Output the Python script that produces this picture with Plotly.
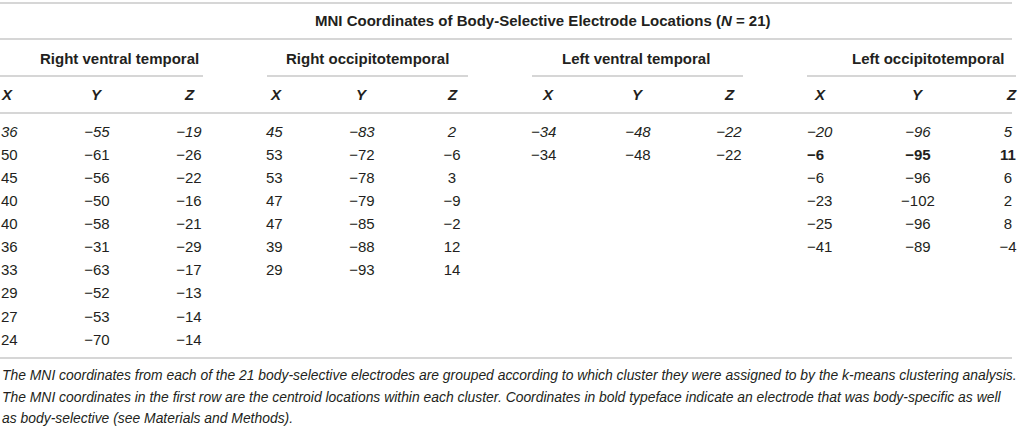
import plotly.graph_objects as go

# ---------------- data (first row = cluster centroid)
groups = ["Right ventral temporal", "Right occipitotemporal",
          "Left ventral temporal", "Left occipitotemporal"]

rvt_x = [36, 50, 45, 40, 40, 36, 33, 29, 27, 24]
rvt_y = [-55, -61, -56, -50, -58, -31, -63, -52, -53, -70]
rvt_z = [-19, -26, -22, -16, -21, -29, -17, -13, -14, -14]

rot_x = [45, 53, 53, 47, 47, 39, 29]
rot_y = [-83, -72, -78, -79, -85, -88, -93]
rot_z = [2, -6, 3, -9, -2, 12, 14]

lvt_x = [-34, -34]
lvt_y = [-48, -48]
lvt_z = [-22, -22]

lot_x = [-20, -6, -6, -23, -25, -41]
lot_y = [-96, -95, -96, -102, -96, -89]
lot_z = [5, 11, 6, 2, 8, -4]

# rows (within a group) that are body-specific -> bold
bold_rows = {3: [1]}

title = "MNI Coordinates of Body-Selective Electrode Locations (<i>N</i> = 21)"
footnote = [
    "The MNI coordinates from each of the 21 body-selective electrodes are grouped according to which cluster they were assigned to by the k-means clustering analysis.",
    "The MNI coordinates in the first row are the centroid locations within each cluster. Coordinates in bold typeface indicate an electrode that was body-specific as well",
    "as body-selective (see Materials and Methods).",
]

# ---------------- layout constants (pixel space)
W, H = 1019, 428
FONT = "Liberation Sans, Arial, Helvetica, sans-serif"
TXT = "#231f20"
RULE = "#c9c9c9"
row0, drow = 133, 23.1
# per group: x left edge of X column, centre of Y, centre of Z, underline span, header centres
cols = [
    dict(x=1, y=97, z=189, span=(0, 203), hx=7, gx=119),
    dict(x=266, y=362, z=452, span=(267, 468), hx=276, gx=367),
    dict(x=531, y=638, z=729, span=(532, 743), hx=548, gx=636),
    dict(x=807, y=918, z=1008, span=(807, 1016), hx=820, gx=928),
]
data = [(rvt_x, rvt_y, rvt_z), (rot_x, rot_y, rot_z),
        (lvt_x, lvt_y, lvt_z), (lot_x, lot_y, lot_z)]


def fmt(v, i, g):
    s = str(v).replace("-", "\u2212")
    if i == 0:
        s = "<i>" + s + "</i>"
    if i in bold_rows.get(g, []):
        s = "<b>" + s + "</b>"
    return s


fig = go.Figure()

for g, (xs, ys, zs) in enumerate(data):
    c = cols[g]
    rows = [row0 + i * drow for i in range(len(xs))]
    for vals, cx, pos in [(xs, c["x"], "middle right"),
                          (ys, c["y"], "middle center"),
                          (zs, c["z"], "middle center")]:
        fig.add_trace(go.Scatter(
            x=[cx] * len(vals), y=rows, mode="text",
            text=[fmt(v, i, g) for i, v in enumerate(vals)],
            textposition=pos,
            textfont=dict(family=FONT, size=15, color=TXT),
            hoverinfo="skip", showlegend=False,
        ))

annotations = [dict(x=543, y=20, text="<b>" + title + "</b>", showarrow=False,
                    font=dict(family=FONT, size=15, color=TXT))]
for g, name in enumerate(groups):
    c = cols[g]
    annotations.append(dict(x=c["gx"], y=58, text="<b>" + name + "</b>", showarrow=False,
                            font=dict(family=FONT, size=15, color=TXT)))
    for lab, hx in [("X", c["hx"]), ("Y", c["y"]), ("Z", c["z"] + 3 * (g == 3))]:
        annotations.append(dict(x=hx, y=94, text="<b><i>" + lab + "</i></b>", showarrow=False,
                                font=dict(family=FONT, size=15, color=TXT)))
for k, line in enumerate(footnote):
    annotations.append(dict(x=0, y=375 + k * 21.5, text="<i>" + line + "</i>", showarrow=False,
                            xanchor="left", font=dict(family=FONT, size=13.9, color=TXT)))

shapes = []
for yy in [3, 39, 113, 358]:
    shapes.append(dict(type="line", xref="x", yref="y", x0=0, x1=1012, y0=yy, y1=yy,
                       line=dict(color=RULE, width=1.5)))
for c in cols:
    shapes.append(dict(type="line", xref="x", yref="y", x0=c["span"][0], x1=c["span"][1],
                       y0=76, y1=76, line=dict(color=RULE, width=1.5)))

fig.update_layout(
    width=W, height=H,
    margin=dict(l=0, r=0, t=0, b=0),
    paper_bgcolor="white", plot_bgcolor="white",
    xaxis=dict(range=[0, W], visible=False, fixedrange=True),
    yaxis=dict(range=[H, 0], visible=False, fixedrange=True),
    annotations=annotations, shapes=shapes,
)

fig.write_html("out.html", config={"displayModeBar": False},
               post_script="document.body.style.margin='0';")
